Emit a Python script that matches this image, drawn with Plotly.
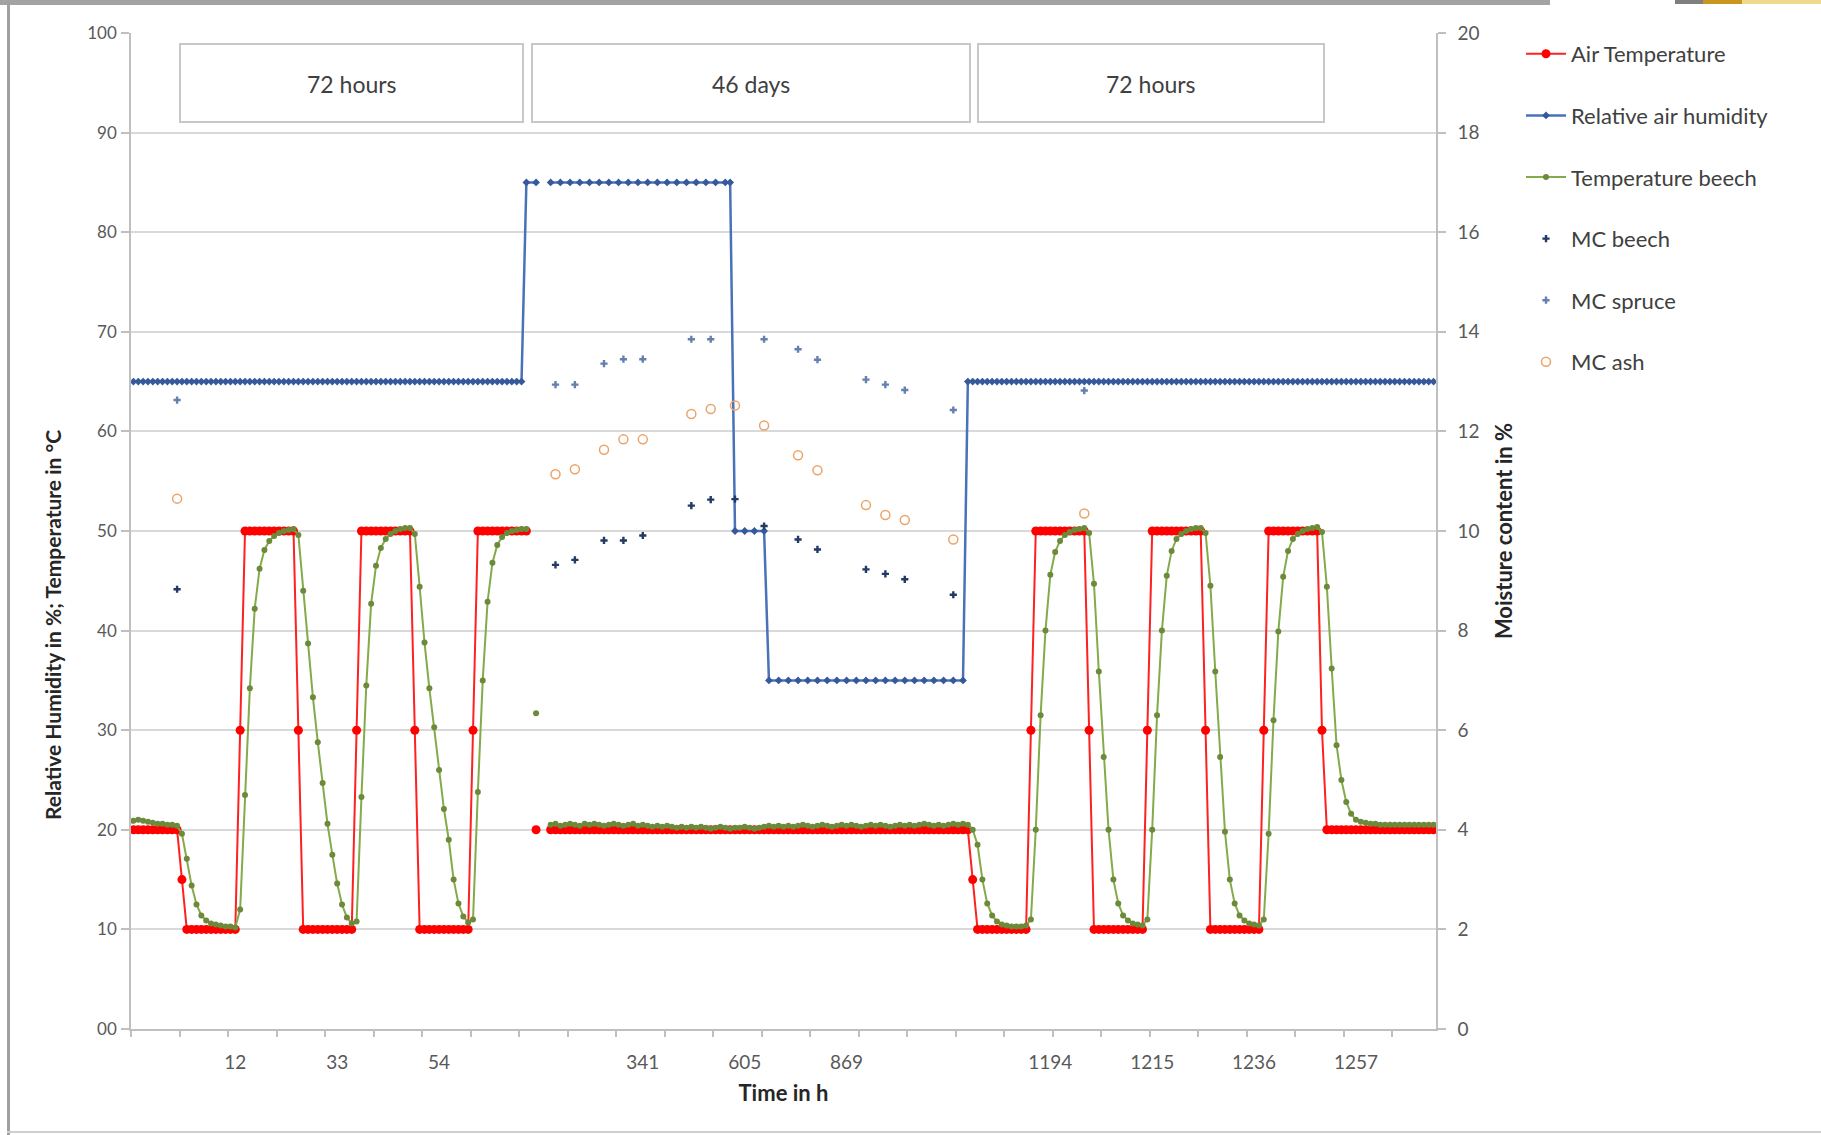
import plotly.graph_objects as go

# ---------------------------------------------------------------------------
# Data: one row per category of the time axis (269 rows).
# ---------------------------------------------------------------------------
N_ROWS = 269
ROW_INDEX = list(range(N_ROWS))

# Time-axis labels and the rows they belong to
TICK_ROWS = [21, 42, 63, 105, 126, 147, 189, 210, 231, 252]
TICK_TEXT = ["12", "33", "54", "341", "605", "869", "1194", "1215", "1236", "1257"]

LEFT_TICKS = [0, 10, 20, 30, 40, 50, 60, 70, 80, 90, 100]
LEFT_TICK_TEXT = ["00", "10", "20", "30", "40", "50", "60", "70", "80", "90", "100"]
RIGHT_TICKS = [0, 2, 4, 6, 8, 10, 12, 14, 16, 18, 20]
RIGHT_TICK_TEXT = ["0", "2", "4", "6", "8", "10", "12", "14", "16", "18", "20"]

# Air temperature in degC (None = no value)
AIR_TEMP = (
    [20] * 10 + [15] + [10] * 11 + [30] + [50] * 11 + [30] + [10] * 11 + [30]
    + [50] * 11 + [30] + [10] * 11 + [30] + [50] * 11
    + [None, 20, None, None]
    + [20] * 86
    + [20, 15] + [10] * 11 + [30] + [50] * 11 + [30] + [10] * 11 + [30]
    + [50] * 11 + [30] + [10] * 11 + [30] + [50] * 11 + [30] + [20] * 23
)

# Temperature inside the beech sample in degC
BEECH_TEMP = (
    [20.9, 21.0, 20.9, 20.8, 20.7, 20.6, 20.6, 20.5, 20.5, 20.4,
     19.6,
     17.1, 14.4, 12.5, 11.4, 10.9, 10.6, 10.5, 10.4, 10.3, 10.3, 10.2,
     12.0,
     23.5, 34.2, 42.2, 46.2, 48.1, 49.0, 49.5, 49.8, 50.0, 50.1, 50.2,
     49.6,
     44.0, 38.7, 33.3, 28.8, 24.7, 20.6, 17.5, 14.6, 12.5, 11.2, 10.6,
     10.8,
     23.3, 34.5, 42.7, 46.5, 48.3, 49.2, 49.7, 50.0, 50.2, 50.3, 50.3,
     49.7,
     44.4, 38.8, 34.2, 30.3, 26.0, 22.1, 19.0, 15.0, 12.6, 11.3, 10.7,
     11.0,
     23.8, 35.0, 42.9, 46.8, 48.6, 49.4, 49.8, 50.0, 50.1, 50.2, 50.2]
    + [None, 31.7, None, None]
    + [20.5, 20.6, 20.4, 20.5, 20.6, 20.5, 20.4, 20.6, 20.5, 20.6,
       20.5, 20.4, 20.5, 20.6, 20.5, 20.4, 20.5, 20.6, 20.4, 20.5,
       20.4, 20.3, 20.4, 20.3, 20.4, 20.3, 20.2, 20.3, 20.2, 20.3,
       20.2, 20.3, 20.2, 20.1, 20.2, 20.3, 20.2, 20.1, 20.2, 20.2,
       20.3, 20.2, 20.1, 20.2, 20.3, 20.4, 20.3, 20.4, 20.3, 20.4,
       20.3, 20.4, 20.5, 20.4, 20.3, 20.4, 20.5, 20.4, 20.3, 20.4,
       20.5, 20.4, 20.5, 20.4, 20.3, 20.4, 20.5, 20.4, 20.5, 20.4,
       20.3, 20.4, 20.5, 20.4, 20.5, 20.4, 20.5, 20.6, 20.5, 20.4,
       20.5, 20.4, 20.5, 20.6, 20.5, 20.6]
    + [20.5, 20.0, 18.5, 15.0, 12.6, 11.4, 10.8, 10.5, 10.4, 10.3, 10.3, 10.3, 10.4,
       11.0,
       20.0, 31.5, 40.0, 45.6, 47.9, 49.0, 49.6, 49.9, 50.1, 50.2, 50.3,
       49.8,
       44.7, 35.9, 27.3, 20.0, 15.0, 12.6, 11.4, 10.9, 10.6, 10.5, 10.4,
       11.0,
       20.0, 31.5, 40.0, 45.5, 48.0, 49.2, 49.7, 50.0, 50.2, 50.3, 50.3,
       49.8,
       44.5, 35.9, 27.3, 19.8, 15.0, 12.6, 11.4, 10.9, 10.6, 10.5, 10.4,
       11.0,
       19.6, 31.0, 39.9, 45.4, 48.0, 49.2, 49.7, 50.0, 50.2, 50.3, 50.4,
       49.9,
       44.4, 36.2, 28.5, 25.0, 22.8, 21.6, 21.0, 20.8, 20.7, 20.6, 20.6, 20.5,
       20.5, 20.5, 20.5, 20.5, 20.5, 20.5, 20.5, 20.5, 20.5, 20.5, 20.5]
)

# Relative air humidity in % (logged rows only; None breaks the line)
RH_ROW = (list(range(0, 81)) + [81, 83, 84] + list(range(86, 123, 2)) + [123]
          + [124, 126, 128, 130] + list(range(131, 172, 2)) + list(range(172, 269)))
RH_VALUE = ([65] * 81 + [85, 85, None] + [85] * 19 + [85]
            + [50] * 4 + [35] * 21 + [65] * 97)

# Moisture content in % (secondary axis)
MC_ROW = [9, 87, 91, 97, 101, 105, 115, 119, 124, 130, 137, 141, 151, 155, 159, 169, 196]
MC_BEECH = [8.83, 9.32, 9.42, 9.81, 9.81, 9.91, 10.51, 10.63, 10.64, 10.1,
            9.83, 9.63, 9.23, 9.14, 9.03, 8.72, None]
MC_SPRUCE = [12.63, 12.94, 12.94, 13.36, 13.45, 13.45, 13.85, 13.85, None, 13.85,
             13.65, 13.44, 13.04, 12.94, 12.83, 12.43, 12.82]
MC_ASH = [10.65, 11.14, 11.24, 11.63, 11.84, 11.84, 12.35, 12.45, 12.52, 12.12,
          11.52, 11.22, 10.52, 10.32, 10.22, 9.83, 10.35]

PHASES = ["72 hours", "46 days", "72 hours"]

assert len(AIR_TEMP) == N_ROWS and len(BEECH_TEMP) == N_ROWS
assert len(RH_ROW) == len(RH_VALUE)

# ---------------------------------------------------------------------------
# Page geometry (pixels)
# ---------------------------------------------------------------------------
W, H = 1821, 1135
ML, MR, MT, MB = 131, 385, 33, 106
PW, PH = W - ML - MR, H - MT - MB


def px_x(px):
    return (px - ML) / PW


def px_y(py):
    return (H - MB - py) / PH


FONT = "Lato, 'Liberation Sans', sans-serif"
GRID = "#d9d9d9"
AXIS = "#bfbfbf"

fig = go.Figure()

fig.add_trace(go.Scatter(
    x=ROW_INDEX, y=AIR_TEMP, name="Air Temperature", mode="lines+markers",
    line=dict(color="#ff2020", width=2), marker=dict(color="#ff0000", size=9),
    connectgaps=False, legendgroup="g1"))
fig.add_trace(go.Scatter(
    x=RH_ROW, y=RH_VALUE, name="Relative air humidity", mode="lines+markers",
    line=dict(color="#4a72b8", width=2.5),
    marker=dict(symbol="diamond", color="#35599a", size=6),
    connectgaps=False, legendgroup="g2"))
fig.add_trace(go.Scatter(
    x=ROW_INDEX, y=BEECH_TEMP, name="Temperature beech", mode="lines+markers",
    line=dict(color="#84aa4a", width=2), marker=dict(color="#6b8a3a", size=6),
    connectgaps=False, legendgroup="g3"))
fig.add_trace(go.Scatter(
    x=MC_ROW, y=MC_BEECH, name="MC beech", mode="markers", yaxis="y2",
    marker=dict(symbol="cross", color="#233a66", size=6), legendgroup="g4"))
fig.add_trace(go.Scatter(
    x=MC_ROW, y=MC_SPRUCE, name="MC spruce", mode="markers", yaxis="y2",
    marker=dict(symbol="cross", color="#6480ad", size=6), legendgroup="g5"))
fig.add_trace(go.Scatter(
    x=MC_ROW, y=MC_ASH, name="MC ash", mode="markers", yaxis="y2",
    marker=dict(symbol="circle-open", color="#eba468", size=9,
                line=dict(width=1.5)), legendgroup="g6"))

shapes = []
annotations = []

# Phase boxes above the curves
box_px = [(180, 523), (532, 970), (978, 1324)]
for (x0, x1), label in zip(box_px, PHASES):
    shapes.append(dict(type="rect", xref="paper", yref="paper",
                       x0=px_x(x0), x1=px_x(x1), y0=px_y(122), y1=px_y(44),
                       line=dict(color="#c8c8c8", width=2), fillcolor="white"))
    annotations.append(dict(xref="paper", yref="paper", x=px_x((x0 + x1) / 2),
                            y=px_y(84), xanchor="center", yanchor="middle",
                            text=label, showarrow=False,
                            font=dict(family=FONT, size=23, color="#404040")))

# Left axis title
annotations.append(dict(
    xref="paper", yref="paper", x=px_x(52), y=px_y(625), textangle=-90,
    xanchor="center", yanchor="middle",
    text="<b>Relative Humidity in %; Temperature in °C</b>", showarrow=False,
    font=dict(family=FONT, size=21, color="#262626")))

# Frame around the page
frame = [
    (0, 1550, 0, 5, "#a3a3a3"),
    (1550, 1675, 0, 4, "#ffffff"),
    (1675, 1703, 0, 4, "#7f7f7f"),
    (1703, 1742, 0, 4, "#c9971f"),
    (1742, 1821, 0, 4, "#efd98f"),
    (7, 10, 0, 1135, "#a0a0a0"),
    (7, 1821, 1131, 1133, "#cfcfcf"),
]
for x0, x1, y0, y1, col in frame:
    shapes.append(dict(type="rect", xref="paper", yref="paper",
                       x0=px_x(x0), x1=px_x(x1), y0=px_y(y1), y1=px_y(y0),
                       line=dict(width=0), fillcolor=col, layer="above"))

fig.update_layout(
    width=W, height=H,
    margin=dict(l=ML, r=MR, t=MT, b=MB),
    paper_bgcolor="white", plot_bgcolor="white",
    font=dict(family=FONT, color="#404040"),
    showlegend=True,
    legend=dict(x=px_x(1521), y=px_y(33), xanchor="left", yanchor="top",
                font=dict(family=FONT, size=22, color="#404040"),
                itemwidth=40, tracegroupgap=30,
                bgcolor="rgba(0,0,0,0)", borderwidth=0),
    xaxis=dict(
        range=[-0.5, N_ROWS - 0.5], tickmode="array", tickvals=TICK_ROWS,
        ticktext=TICK_TEXT, ticks="", showgrid=False, zeroline=False,
        showline=True, linecolor=AXIS, linewidth=1.5,
        tickfont=dict(family=FONT, size=19, color="#595959"),
        ticklabelstandoff=15,
        minor=dict(tickmode="linear", tick0=-0.5, dtick=10, ticks="outside",
                   ticklen=6, tickwidth=1.5, tickcolor=AXIS, showgrid=False),
        title=dict(text="<b>Time in h</b>", standoff=14,
                   font=dict(family=FONT, size=22, color="#262626"))),
    yaxis=dict(
        range=[0, 100], tickmode="array", tickvals=LEFT_TICKS,
        ticktext=LEFT_TICK_TEXT, ticks="outside", ticklen=8, tickwidth=1.5,
        tickcolor=AXIS, showline=True, linecolor=AXIS, linewidth=1.5,
        showgrid=True, gridcolor=GRID, gridwidth=1.5, zeroline=False,
        tickfont=dict(family=FONT, size=17, color="#595959"),
        ticklabelstandoff=1),
    yaxis2=dict(
        range=[0, 20], overlaying="y", side="right", tickmode="array",
        tickvals=RIGHT_TICKS, ticktext=RIGHT_TICK_TEXT, ticks="outside",
        ticklen=8, tickwidth=1.5, tickcolor=AXIS, showline=True,
        linecolor=AXIS, linewidth=1.5, showgrid=False, zeroline=False,
        tickfont=dict(family=FONT, size=19, color="#595959"),
        ticklabelstandoff=8,
        title=dict(text="<b>Moisture content in %</b>", standoff=18,
                   font=dict(family=FONT, size=22, color="#262626"))),
    shapes=shapes,
    annotations=annotations,
)

fig.write_html("out.html")
